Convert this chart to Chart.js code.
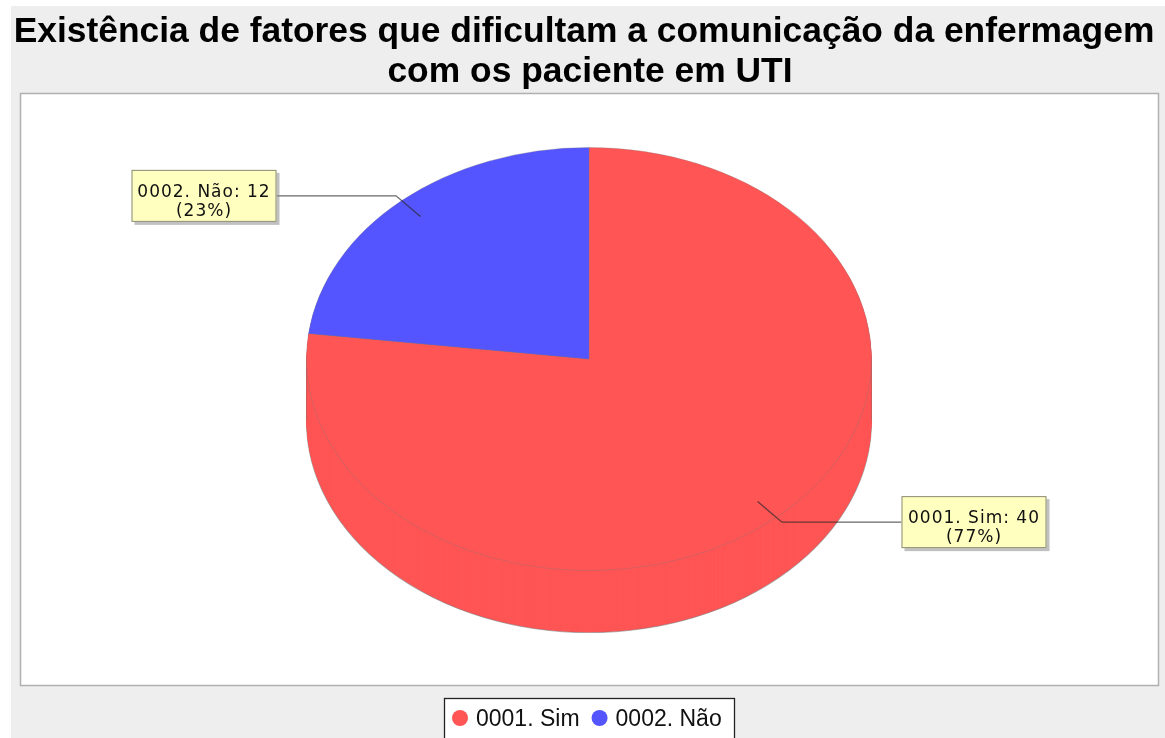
<!DOCTYPE html>
<html>
<head>
<meta charset="utf-8">
<script src="https://cdn.jsdelivr.net/npm/chart.js@4/dist/chart.umd.min.js"></script>
<style>
  html, body { margin: 0; padding: 0; background: #ffffff; }
  canvas { display: block; }
</style>
</head>
<body>
<canvas id="chart" width="1165" height="738"></canvas>
<script>
// Survey answers and their counts
const categories = ['0001. Sim', '0002. Não'];
const counts = [40, 12];
const sliceColors = ['#FF5555', '#5555FF'];
const titleLines = ['Existência de fatores que dificultam a comunicação da enfermagem', 'com os paciente em UTI'];

// 3D look of the pie: vertical squash of the top face and thickness of the side
const TILT = 0.749;
const DEPTH = 62;
const TOP_CY = 359;

function applyFace(ctx, cy, off) {
  ctx.translate(0, TOP_CY + off);
  ctx.scale(1, TILT);
  ctx.translate(0, -cy);
}

function facePoint(arc, frac) {
  const mid = (arc.startAngle + arc.endAngle) / 2;
  return {
    x: arc.x + Math.cos(mid) * arc.outerRadius * frac,
    y: TOP_CY + Math.sin(mid) * arc.outerRadius * frac * TILT
  };
}

const frame = {
  id: 'frame',
  beforeDraw(chart) {
    const ctx = chart.ctx;
    ctx.save();
    ctx.fillStyle = '#ffffff';
    ctx.fillRect(0, 0, chart.width, chart.height);
    ctx.fillStyle = '#eeeeee';
    ctx.fillRect(11, 6, chart.width - 11, chart.height - 6);
    // plot panel
    ctx.fillStyle = '#ffffff';
    ctx.fillRect(20, 93, 1138, 592);
    ctx.strokeStyle = '#b0b0b0';
    ctx.lineWidth = 1.5;
    ctx.strokeRect(20.5, 93.5, 1138, 592);
    // title
    ctx.fillStyle = '#000000';
    ctx.font = 'bold 35.4px "Liberation Sans", Arial, sans-serif';
    ctx.textAlign = 'center';
    ctx.textBaseline = 'alphabetic';
    ctx.fillText(titleLines[0], 584, 42);
    ctx.fillText(titleLines[1], 590, 82);
    ctx.restore();
  }
};

const pie3d = {
  id: 'pie3d',
  beforeDatasetDraw(chart, args) {
    const ctx = chart.ctx;
    const arcs = args.meta.data;
    const p0 = arcs[0].getProps(['x', 'y', 'outerRadius']);
    const cx = p0.x, cy = p0.y, r = p0.outerRadius;
    // side of the pie, stacked from the bottom up
    for (let d = DEPTH; d >= 1; d--) {
      ctx.save();
      applyFace(ctx, cy, d);
      arcs.forEach(el => {
        const a = el.getProps(['x', 'y', 'startAngle', 'endAngle', 'outerRadius']);
        ctx.beginPath();
        ctx.moveTo(a.x, a.y);
        ctx.arc(a.x, a.y, a.outerRadius, a.startAngle, a.endAngle);
        ctx.closePath();
        ctx.fillStyle = el.options.backgroundColor;
        ctx.fill();
      });
      if (d === DEPTH) {
        ctx.beginPath();
        ctx.arc(cx, cy, r, 0, Math.PI);
        ctx.strokeStyle = 'rgba(110,110,110,0.5)';
        ctx.lineWidth = 1.2;
        ctx.stroke();
      }
      ctx.restore();
    }
    ctx.save();
    ctx.strokeStyle = 'rgba(110,110,110,0.35)';
    ctx.lineWidth = 1;
    ctx.beginPath();
    ctx.moveTo(cx - r, TOP_CY); ctx.lineTo(cx - r, TOP_CY + DEPTH);
    ctx.moveTo(cx + r, TOP_CY); ctx.lineTo(cx + r, TOP_CY + DEPTH);
    ctx.stroke();
    ctx.restore();
    // top face drawn by the pie controller
    ctx.save();
    applyFace(ctx, cy, 0);
  },
  afterDatasetDraw(chart) {
    chart.ctx.restore();
  }
};

const labelsAndLegend = {
  id: 'labelsAndLegend',
  afterDraw(chart) {
    const ctx = chart.ctx;
    const meta = chart.getDatasetMeta(0);
    const values = chart.data.datasets[0].data;
    const total = values.reduce((s, v) => s + v, 0);
    ctx.save();
    meta.data.forEach((el, i) => {
      const a = el.getProps(['x', 'y', 'startAngle', 'endAngle', 'outerRadius']);
      const anchor = facePoint(a, 0.9);
      const elbow = facePoint(a, 1.03);
      const left = Math.cos((a.startAngle + a.endAngle) / 2) < 0;
      const bw = 145, bh = 52;
      const bx = left ? a.x - a.outerRadius - 30 - bw : a.x + a.outerRadius + 30;
      const by = elbow.y - bh / 2;
      const edgeX = left ? bx + bw : bx;
      // link line
      ctx.strokeStyle = 'rgba(40,40,40,0.7)';
      ctx.lineWidth = 1.3;
      ctx.beginPath();
      ctx.moveTo(anchor.x, anchor.y);
      ctx.lineTo(elbow.x, elbow.y);
      ctx.lineTo(edgeX, elbow.y);
      ctx.stroke();
      // label box with shadow
      ctx.fillStyle = 'rgba(140,140,140,0.55)';
      ctx.fillRect(bx + 3, by + 3, bw, bh);
      ctx.fillStyle = '#FFFFC0';
      ctx.fillRect(bx, by, bw, bh);
      ctx.strokeStyle = '#8a8a7a';
      ctx.lineWidth = 1;
      ctx.strokeRect(bx + 0.5, by + 0.5, bw - 1, bh - 1);
      ctx.fillStyle = '#111111';
      ctx.font = '17px "DejaVu Sans", sans-serif';
      ctx.letterSpacing = '1px';
      ctx.textAlign = 'center';
      const pct = Math.round(values[i] / total * 100);
      ctx.fillText(chart.data.labels[i] + ': ' + values[i], bx + bw / 2, by + 27);
      ctx.fillText('(' + pct + '%)', bx + bw / 2, by + 46);
      ctx.letterSpacing = '0px';
    });
    // legend
    ctx.fillStyle = '#ffffff';
    ctx.fillRect(444, 698, 290, 44);
    ctx.strokeStyle = '#222222';
    ctx.lineWidth = 1.3;
    ctx.strokeRect(444.5, 698.5, 290, 44);
    ctx.font = '23px "Liberation Sans", Arial, sans-serif';
    ctx.textAlign = 'left';
    ctx.textBaseline = 'alphabetic';
    let x = 452;
    chart.data.labels.forEach((lab, i) => {
      ctx.fillStyle = chart.data.datasets[0].backgroundColor[i];
      ctx.beginPath();
      ctx.arc(x + 8, 718, 8, 0, Math.PI * 2);
      ctx.fill();
      ctx.fillStyle = '#111111';
      ctx.fillText(lab, x + 24, 726);
      x += 24 + ctx.measureText(lab).width + 12;
    });
    ctx.restore();
  }
};

new Chart(document.getElementById('chart'), {
  type: 'pie',
  data: {
    labels: categories,
    datasets: [{
      data: counts,
      backgroundColor: sliceColors,
      borderColor: 'rgba(120,120,120,0.35)',
      borderWidth: 1,
      clip: false
    }]
  },
  options: {
    responsive: false,
    animation: false,
    events: [],
    layout: { padding: { left: 306, right: 293, top: 80, bottom: 92 } },
    plugins: {
      legend: { display: false },
      tooltip: { enabled: false },
      title: { display: false }
    }
  },
  plugins: [frame, pie3d, labelsAndLegend]
});
</script>
</body>
</html>
